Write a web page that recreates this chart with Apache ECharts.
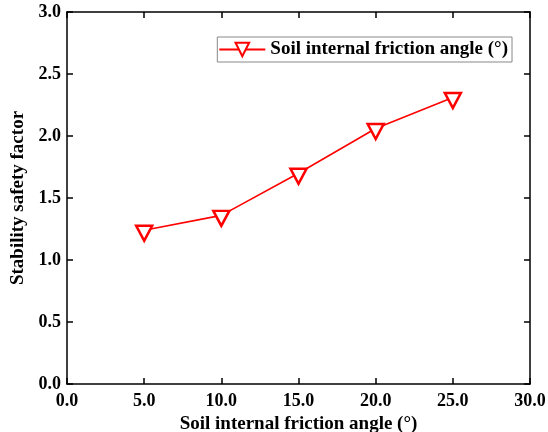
<!DOCTYPE html>
<html>
<head>
<meta charset="utf-8">
<script src="https://cdn.jsdelivr.net/npm/echarts@6/dist/echarts.min.js"></script>
<style>
  html, body { margin: 0; padding: 0; background: #fff; }
  #chart { width: 548px; height: 432px; }
</style>
</head>
<body>
<div id="chart"></div>
<script>
// Friction angle (degrees) vs. stability safety factor
const frictionAngles = [5, 10, 15, 20, 25];
const safetyFactors = [1.24, 1.36, 1.70, 2.06, 2.31];
const seriesName = 'Soil internal friction angle (\u00B0)';
const xTitle = 'Soil internal friction angle (\u00B0)';
const yTitle = 'Stability safety factor';

const FONT = '"Liberation Serif", "Times New Roman", serif';
const RED = '#ff0000';

const points = frictionAngles.map((x, i) => [x, safetyFactors[i]]);

// shared look for the four sides of the frame
const boxAxis = () => ({
  axisLine: { show: true, onZero: false, lineStyle: { color: '#000', width: 1.5 } },
  axisTick: { show: true, inside: true, length: 6, lineStyle: { color: '#000', width: 1.5 } },
  splitLine: { show: false }
});

const titleStyle = { fontFamily: FONT, fontWeight: 'bold', fontSize: 19, color: '#000' };
const tickStyle = { fontFamily: FONT, fontWeight: 'bold', fontSize: 18, color: '#000' };

const option = {
  backgroundColor: '#fff',
  animation: false,
  grid: { left: 67, right: 18, top: 12, bottom: 48, containLabel: false, outerBoundsMode: 'none' },
  legend: {
    data: [seriesName],
    right: 36, top: 37,
    padding: [3, 4, 3, 1],
    itemGap: 4,
    itemWidth: 46, itemHeight: 17,
    borderColor: '#888', borderWidth: 1,
    textStyle: titleStyle
  },
  xAxis: [
    Object.assign(boxAxis(), {
      type: 'value', min: 0, max: 30, interval: 5, position: 'bottom',
      name: xTitle, nameLocation: 'middle', nameGap: 29,
      nameTextStyle: titleStyle,
      axisLabel: Object.assign({ margin: 8, formatter: v => v.toFixed(1) }, tickStyle)
    }),
    Object.assign(boxAxis(), {
      type: 'value', min: 0, max: 30, interval: 5, position: 'top',
      axisLabel: { show: false }
    })
  ],
  yAxis: [
    Object.assign(boxAxis(), {
      type: 'value', min: 0, max: 3, interval: 0.5, position: 'left',
      name: yTitle, nameLocation: 'middle', nameGap: 34,
      nameTextStyle: titleStyle,
      axisLabel: Object.assign({ margin: 6, formatter: v => v.toFixed(1) }, tickStyle)
    }),
    Object.assign(boxAxis(), {
      type: 'value', min: 0, max: 3, interval: 0.5, position: 'right',
      axisLabel: { show: false }
    })
  ],
  series: [{
    name: seriesName,
    type: 'line',
    data: points,
    xAxisIndex: 0, yAxisIndex: 0,
    symbol: 'triangle',
    symbolRotate: 180,
    symbolSize: [16, 15],
    symbolOffset: [0, 3],
    showAllSymbol: true,
    lineStyle: { color: RED, width: 1.6 },
    itemStyle: { color: '#fff', borderColor: RED, borderWidth: 2.5 }
  }]
};

echarts.init(document.getElementById('chart'), null, { renderer: 'canvas' }).setOption(option);
</script>
</body>
</html>
